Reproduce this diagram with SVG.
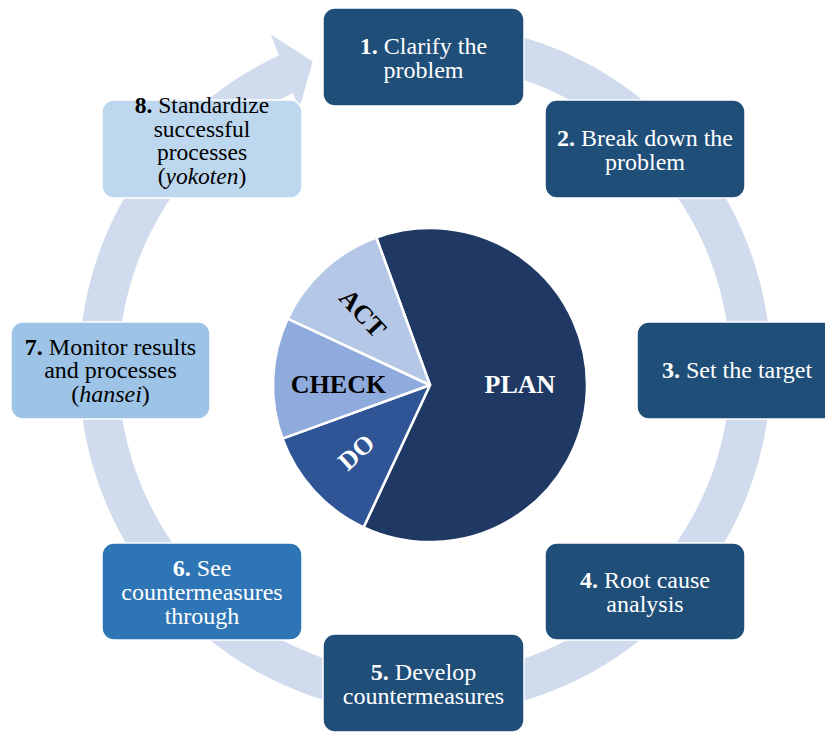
<svg xmlns="http://www.w3.org/2000/svg" width="825" height="732" viewBox="0 0 825 732">
  <style>
    .step rect { stroke: #ffffff; stroke-width: 1.5; }
    .dark rect { fill: #1f4e79; }
    .mid rect { fill: #2e75b6; }
    .light rect { fill: #9dc3e6; }
    .pale rect { fill: #bdd7ee; }
    .step text { font-family: "Liberation Serif", "Times New Roman", serif; font-size: 24px; text-anchor: middle; }
    .dark text, .mid text { fill: #ffffff; }
    .light text, .pale text { fill: #000000; }
    .pale text { font-size: 23.5px; }
    .num { font-weight: bold; }
    .slice { stroke: #ffffff; stroke-width: 2.5; stroke-linejoin: round; }
    .plabel { font-family: "Liberation Serif", "Times New Roman", serif; font-size: 26px; font-weight: bold; text-anchor: middle; }
  </style>

  <!-- cycle band with arrowhead, running clockwise back into step 1 -->
  <g id="connectors">
    <path fill="#d0dbee" d="M333.95,35.29 A346,346 0 1 1 278.8,55.5 L270.9,34.6 L312.7,61.5 L299.2,109.3 L293.0,92.9 A306,306 0 1 0 344.3,73.93 Z"/>
  </g>

  <!-- PDCA pie: centre (430,385), r 157 -->
  <g id="pdca">
    <g id="plan">
      <path class="slice" fill="#1f3864" d="M430,385 L376.3,237.5 A157,157 0 1 1 363.6,527.3 Z"/>
      <text class="plabel" x="520" y="392.5" fill="#ffffff">PLAN</text>
    </g>
    <g id="do">
      <path class="slice" fill="#2f5597" d="M430,385 L363.6,527.3 A157,157 0 0 1 282.5,438.7 Z"/>
      <text class="plabel" fill="#ffffff" transform="translate(356,452) rotate(-42.5)" y="9">DO</text>
    </g>
    <g id="check">
      <path class="slice" fill="#8faadc" d="M430,385 L282.5,438.7 A157,157 0 0 1 287.7,318.6 Z"/>
      <text class="plabel" x="338.5" y="392.5" fill="#000000">CHECK</text>
    </g>
    <g id="act">
      <path class="slice" fill="#b4c7e7" d="M430,385 L287.7,318.6 A157,157 0 0 1 376.3,237.5 Z"/>
      <text class="plabel" fill="#000000" transform="translate(363,313) rotate(47.5)" y="9">ACT</text>
    </g>
  </g>

  <g id="step1" class="step dark">
    <rect x="323" y="8" width="201" height="98" rx="12"/>
    <text x="423.5" y="53.5"><tspan class="num">1.</tspan> Clarify the</text>
    <text x="423.5" y="77.5">problem</text>
  </g>
  <g id="step2" class="step dark">
    <rect x="545" y="100" width="200" height="98" rx="12"/>
    <text x="645" y="145.5"><tspan class="num">2.</tspan> Break down the</text>
    <text x="645" y="169.5">problem</text>
  </g>
  <g id="step3" class="step dark">
    <rect x="637" y="322" width="200" height="97" rx="12"/>
    <text x="737" y="378"><tspan class="num">3.</tspan> Set the target</text>
  </g>
  <g id="step4" class="step dark">
    <rect x="545" y="543" width="200" height="97" rx="12"/>
    <text x="645" y="588"><tspan class="num">4.</tspan> Root cause</text>
    <text x="645" y="612">analysis</text>
  </g>
  <g id="step5" class="step dark">
    <rect x="323" y="634" width="201" height="98" rx="12"/>
    <text x="423.5" y="680"><tspan class="num">5.</tspan> Develop</text>
    <text x="423.5" y="703.5">countermeasures</text>
  </g>
  <g id="step6" class="step mid">
    <rect x="102" y="543" width="200" height="97" rx="12"/>
    <text x="202" y="575.5"><tspan class="num">6.</tspan> See</text>
    <text x="202" y="599.5">countermeasures</text>
    <text x="202" y="623.5">through</text>
  </g>
  <g id="step7" class="step light">
    <rect x="11" y="322" width="199" height="97" rx="12"/>
    <text x="110.5" y="354.5"><tspan class="num">7.</tspan> Monitor results</text>
    <text x="110.5" y="378">and processes</text>
    <text x="110.5" y="401.5">(<tspan font-style="italic">hansei</tspan>)</text>
  </g>
  <g id="step8" class="step pale">
    <rect x="102" y="100" width="200" height="98" rx="12"/>
    <text x="202" y="113"><tspan class="num">8.</tspan> Standardize</text>
    <text x="202" y="136.5">successful</text>
    <text x="202" y="160">processes</text>
    <text x="202" y="183.5">(<tspan font-style="italic">yokoten</tspan>)</text>
  </g>
</svg>
